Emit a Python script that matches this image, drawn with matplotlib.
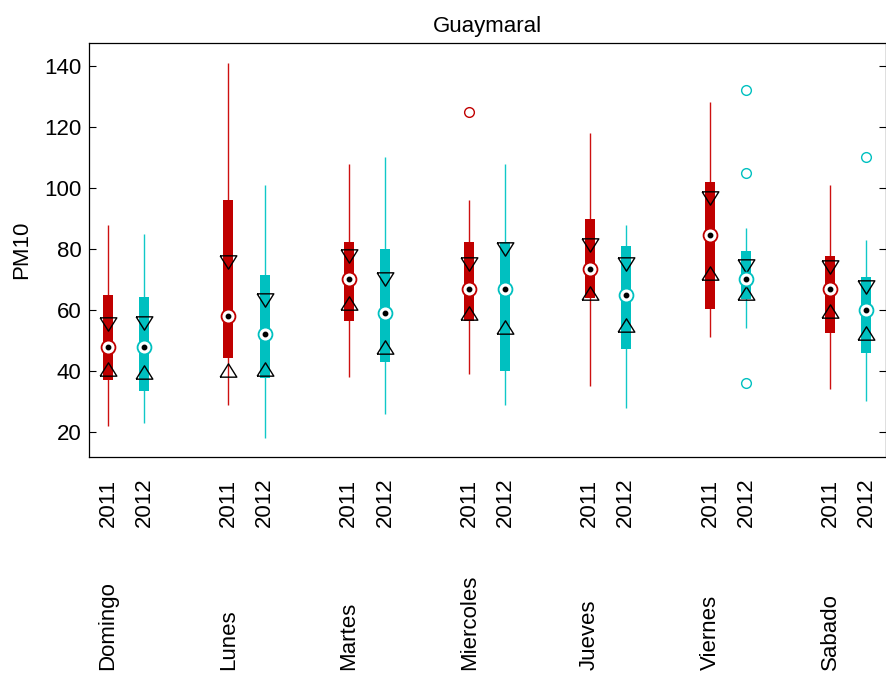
import numpy as np
import matplotlib
matplotlib.use("Agg")
import matplotlib.pyplot as plt
from matplotlib.transforms import blended_transform_factory

# PM10 por dia de la semana, estacion Guaymaral
days = ["Domingo", "Lunes", "Martes", "Miercoles", "Jueves", "Viernes", "Sabado"]
years = ["2011", "2012"]

low_2011 = [22, 29, 38, 39, 35, 51, 34]
q1_2011 = [37, 44.4, 56.5, 56.5, 64, 60.2, 52.6]
med_2011 = [48, 58, 70, 67, 73.5, 84.5, 67]
q3_2011 = [65, 96, 82.4, 82.4, 89.8, 102, 77.8]
high_2011 = [88, 141, 108, 96, 118, 128, 101]
ci_lo_2011 = [40.8, 40.3, 62.4, 58.9, 65.7, 72, 59.8]
ci_hi_2011 = [55.3, 75.8, 77.7, 75, 81.2, 96.6, 74.2]
out_2011 = [[], [], [], [125], [], [], []]

low_2012 = [23, 18, 26, 29, 28, 54, 30]
q1_2012 = [33.5, 37.6, 43, 40.1, 47.3, 63.5, 46]
med_2012 = [48, 52, 59, 67, 65, 70, 60]
q3_2012 = [64.4, 71.4, 80, 82.4, 80.8, 79.4, 70.8]
high_2012 = [85, 101, 110, 108, 88, 87, 83]
ci_lo_2012 = [39.8, 40.6, 47.8, 54.3, 55.1, 65.7, 52.6]
ci_hi_2012 = [55.8, 63.3, 70.2, 79.9, 74.9, 74.3, 67.6]
out_2012 = [[], [], [], [], [], [132, 105, 36], [110]]

y_ticks = [20, 40, 60, 80, 100, 120, 140]

plt.rcParams["font.family"] = ["Liberation Sans", "DejaVu Sans"]
plt.rcParams["font.size"] = 16

series = [
    (low_2011, q1_2011, med_2011, q3_2011, high_2011, ci_lo_2011, ci_hi_2011, out_2011),
    (low_2012, q1_2012, med_2012, q3_2012, high_2012, ci_lo_2012, ci_hi_2012, out_2012),
]
box_colors = ["#C00000", "#00C0C0"]
whisker_colors = ["#CD1010", "#10C8C8"]

up_tri = [(-1, -0.8), (1, -0.8), (0, 0.8), (-1, -0.8)]
down_tri = [(-1, 0.8), (1, 0.8), (0, -0.8), (-1, 0.8)]

fig = plt.figure(figsize=(8.86, 6.77), dpi=100)
ax = fig.add_axes([89 / 886, 220 / 677, (885.5 - 89) / 886, 414 / 677])

idx = np.arange(len(days))
for yi, (low, q1, med, q3, high, ci_lo, ci_hi, outs) in enumerate(series):
    x = idx + 0.3 * yi
    q1 = np.array(q1)
    q3 = np.array(q3)
    ax.vlines(x, low, high, color=whisker_colors[yi], lw=1.0, zorder=2)
    ax.bar(x, q3 - q1, bottom=q1, width=0.083, color=box_colors[yi], zorder=3)
    ax.plot(x, ci_hi, linestyle="none", marker=down_tri, ms=12,
            mfc="none", mec="black", mew=1.0, zorder=4)
    ax.plot(x, ci_lo, linestyle="none", marker=up_tri, ms=12,
            mfc="none", mec="black", mew=1.0, zorder=4)
    ax.plot(x, med, linestyle="none", marker="o", ms=10,
            mfc="white", mec=box_colors[yi], mew=1.3, zorder=5)
    ax.plot(x, med, linestyle="none", marker="o", ms=3.2, color="black", zorder=6)
    for d, vals in enumerate(outs):
        if vals:
            ax.plot([x[d]] * len(vals), vals, linestyle="none", marker="o", ms=7,
                    mfc="none", mec=box_colors[yi], mew=1.0, zorder=5)

ax.set_xlim(-0.158, 6.458)
ax.set_ylim(11.8, 147.5)
ax.set_yticks(y_ticks)
ax.set_xticks([])
ax.tick_params(axis="y", direction="in", length=5, width=0.8, right=True,
               labelsize=16, pad=5.5)
for sp in ax.spines.values():
    sp.set_linewidth(0.9)

ax.set_title("Guaymaral", fontsize=16, pad=8)
ax.set_ylabel("PM10", fontsize=16, labelpad=8.5)

trans = blended_transform_factory(ax.transData, ax.transAxes)
for d, day in enumerate(days):
    for yi, year in enumerate(years):
        ax.text(d + 0.3 * yi, -0.168, year, rotation=90, ha="center",
                va="bottom", transform=trans, fontsize=16)
    ax.text(d, -0.5145, day, rotation=90, ha="center", va="bottom",
            transform=trans, fontsize=16)

fig.savefig("out.png", dpi=100)
